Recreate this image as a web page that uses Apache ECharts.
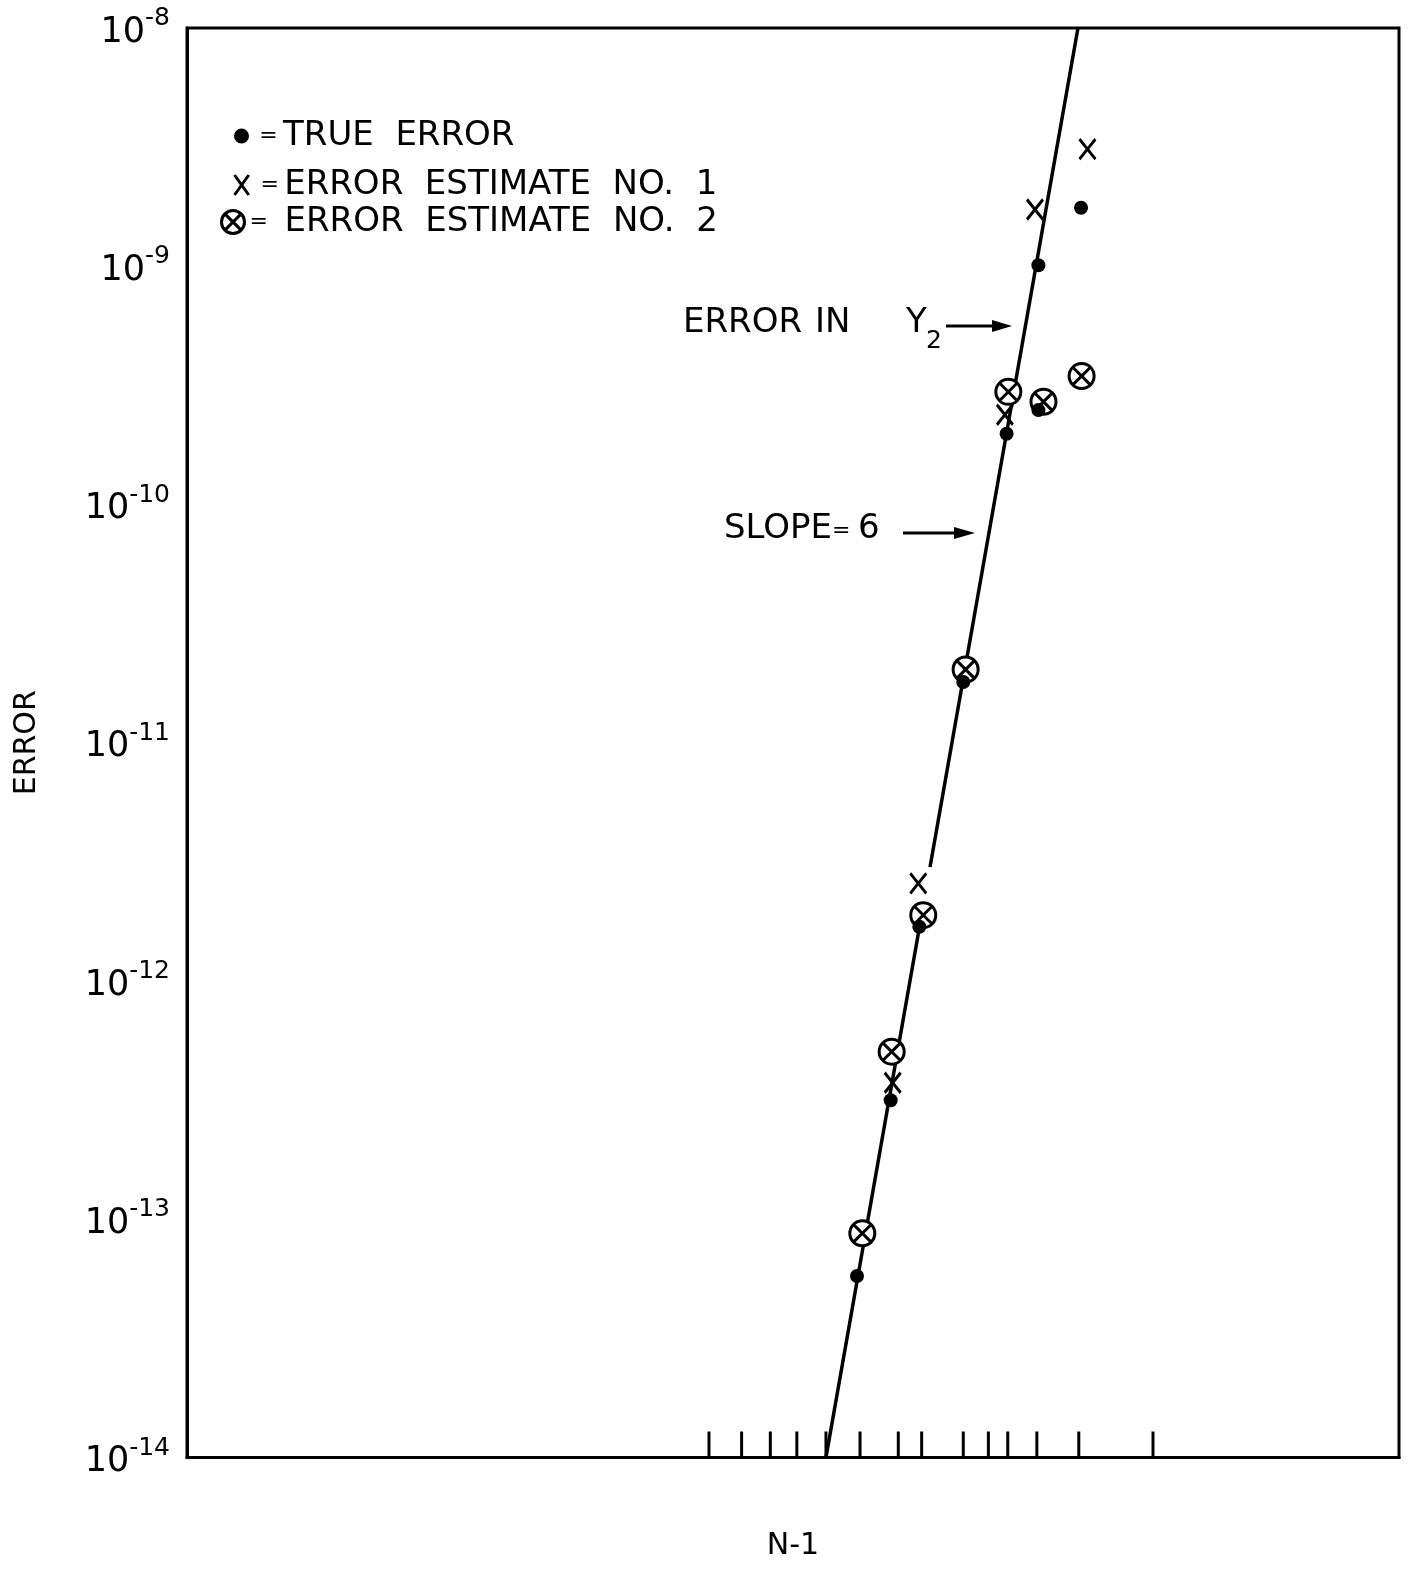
<!DOCTYPE html>
<html><head><meta charset="utf-8">
<script src="https://cdn.jsdelivr.net/npm/echarts@6/dist/echarts.min.js"></script>
<style>html,body{margin:0;padding:0;background:#fff}#chart{width:1411px;height:1569px}</style>
</head><body><div id="chart"></div>
<script>
// x = N-1 (log axis, increasing to the left); y = ERROR (log axis)
const trueErrN   = [14.95, 10.99, 8.46, 5.66, 3.81, 2.85, 2.85, 1.93];
const trueErrVal = [5.78e-14, 3.16e-13, 1.69e-12, 1.80e-11, 1.98e-10, 2.49e-10, 1.01e-9, 1.76e-9];
const est1N   = [10.79, 8.54, 3.87, 2.94, 1.82];
const est1Val = [3.74e-13, 2.57e-12, 2.38e-10, 1.73e-9, 3.10e-9];
const est2N   = [14.24, 10.89, 8.16, 5.54, 3.75, 2.72, 1.92];
const est2Val = [8.73e-14, 5.05e-13, 1.89e-12, 2.03e-11, 2.97e-10, 2.70e-10, 3.46e-10];
// slope = 6 reference line (drawn in two pieces, broken near an X mark)
const fitLowN   = [19.85, 8.155];
const fitLowVal = [1e-14, 2.08e-12];
const fitHighN   = [7.67, 1.985];
const fitHighVal = [3.01e-12, 1e-8];
// tick marks on the N-1 axis (no labels)
const tickN = [57.8, 42.9, 33.0, 25.9, 19.85, 14.54, 10.25, 8.28, 5.66, 4.50, 3.77, 2.89, 1.97, 1.00];
const yMin = 1e-14, yMax = 1e-8;
const xMin = 0.10564, xMax = 6812;

const zip = (a, b) => a.map((v, i) => [v, b[i]]);
const FONT = 'DejaVu Sans';
const X_PATH = 'path://M0,0L10,14M10,0L0,14';
const OT_PATH = 'path://M12,0A12,12,0,1,1,12,24A12,12,0,1,1,12,0ZM3.5,3.5L20.5,20.5M20.5,3.5L3.5,20.5';

const legendFmt = name => '{eq|=}{t|' + name.replace(/ /g, '  ') + '}';
function legendCfg(name, left, top, w, h, eqW, eqAlign, itemStyle) {
  return {
    data: [name], left: left, top: top, padding: 0, itemWidth: w, itemHeight: h,
    selectedMode: false, formatter: legendFmt, itemStyle: itemStyle,
    textStyle: { color: '#000', fontFamily: FONT,
      rich: { eq: { fontSize: 22, width: eqW, align: eqAlign, fontFamily: FONT, color: '#000' },
              t: { fontSize: 34, fontFamily: FONT, color: '#000' } } }
  };
}

const chart = echarts.init(document.getElementById('chart'), null, { renderer: 'canvas' });
chart.setOption({
  backgroundColor: '#fff',
  animation: false,
  grid: { left: 187, top: 28, width: 1212, height: 1429.5, show: true, borderColor: '#000', borderWidth: 3,
          backgroundColor: 'transparent', containLabel: false, outerBoundsMode: 'none' },
  legend: [
    legendCfg('TRUE ERROR', 234, 119, 15, 15, 29, 'center', { color: '#000', opacity: 1 }),
    legendCfg('ERROR ESTIMATE NO. 1', 233, 168, 17, 20, 29, 'center',
              { color: 'rgba(0,0,0,0)', borderColor: '#000', borderWidth: 3, opacity: 1 }),
    legendCfg('ERROR ESTIMATE NO. 2', 220, 205, 23, 23, 35, 'left',
              { color: '#fff', borderColor: '#000', borderWidth: 3, opacity: 1 })
  ],
  xAxis: {
    type: 'log', logBase: 10, inverse: true, min: xMin, max: xMax,
    name: 'N-1', nameLocation: 'middle', nameGap: 74,
    nameTextStyle: { fontFamily: FONT, fontSize: 30, color: '#000' },
    axisLine: { show: true, lineStyle: { color: '#000', width: 3 } },
    axisTick: { show: false }, axisLabel: { show: false }, splitLine: { show: false }, minorTick: { show: false }
  },
  yAxis: {
    type: 'log', logBase: 10, min: yMin, max: yMax,
    name: 'ERROR', nameLocation: 'middle', nameGap: 145, nameRotate: 90,
    nameTextStyle: { fontFamily: FONT, fontSize: 30, color: '#000' },
    axisLine: { show: true, lineStyle: { color: '#000', width: 3 } },
    axisTick: { show: false }, splitLine: { show: false },
    axisLabel: {
      margin: 17, color: '#000',
      formatter: v => '{b|10}{s|' + Math.round(Math.log10(v)) + '}',
      rich: {
        b: { fontSize: 35, fontFamily: FONT, color: '#000', lineHeight: 44, verticalAlign: 'bottom' },
        s: { fontSize: 25, fontFamily: FONT, color: '#000', lineHeight: 25, verticalAlign: 'top' }
      }
    }
  },
  series: [
    { name: 'fitLow', type: 'line', data: zip(fitLowN, fitLowVal), symbol: 'none', z: 2,
      lineStyle: { color: '#000', width: 3.5 }, silent: true },
    { name: 'fitHigh', type: 'line', data: zip(fitHighN, fitHighVal), symbol: 'none', z: 2,
      lineStyle: { color: '#000', width: 3.5 }, silent: true },
    { name: 'ticks', type: 'scatter', data: tickN.map(v => [v, yMin]), symbol: 'rect',
      symbolSize: [3, 26], symbolOffset: [0, -13], z: 2, silent: true,
      itemStyle: { color: '#000', opacity: 1 } },
    { name: 'ERROR ESTIMATE NO. 2', type: 'scatter', data: zip(est2N, est2Val), symbol: OT_PATH,
      symbolSize: 25, z: 3, emphasis: { disabled: true },
      itemStyle: { color: '#fff', borderColor: '#000', borderWidth: 3, opacity: 1 } },
    { name: 'ERROR ESTIMATE NO. 1', type: 'scatter', data: zip(est1N, est1Val), symbol: X_PATH,
      symbolSize: [16, 20], z: 4, emphasis: { disabled: true },
      itemStyle: { color: 'rgba(0,0,0,0)', borderColor: '#000', borderWidth: 3, opacity: 1 } },
    { name: 'TRUE ERROR', type: 'scatter', data: zip(trueErrN, trueErrVal), symbol: 'circle',
      symbolSize: 14, z: 5, emphasis: { disabled: true },
      itemStyle: { color: '#000', opacity: 1 } }
  ],
  graphic: [
    { type: 'text', x: 683, y: 323, style: { text: 'ERROR', font: '34px "DejaVu Sans"', fill: '#000', verticalAlign: 'middle' } },
    { type: 'text', x: 815, y: 323, style: { text: 'IN', font: '34px "DejaVu Sans"', fill: '#000', verticalAlign: 'middle' } },
    { type: 'text', x: 906, y: 323, style: { text: 'Y', font: '34px "DejaVu Sans"', fill: '#000', verticalAlign: 'middle' } },
    { type: 'text', x: 926, y: 341, style: { text: '2', font: '25px "DejaVu Sans"', fill: '#000', verticalAlign: 'middle' } },
    { type: 'line', shape: { x1: 946, y1: 326, x2: 996, y2: 326 }, style: { stroke: '#000', lineWidth: 3 } },
    { type: 'polygon', shape: { points: [[992, 320], [1012, 326], [992, 332]] }, style: { fill: '#000' } },
    { type: 'text', x: 724, y: 529, style: { text: 'SLOPE', font: '34px "DejaVu Sans"', fill: '#000', verticalAlign: 'middle' } },
    { type: 'text', x: 832, y: 531, style: { text: '=', font: '22px "DejaVu Sans"', fill: '#000', verticalAlign: 'middle' } },
    { type: 'text', x: 858, y: 529, style: { text: '6', font: '34px "DejaVu Sans"', fill: '#000', verticalAlign: 'middle' } },
    { type: 'line', shape: { x1: 903, y1: 533, x2: 958, y2: 533 }, style: { stroke: '#000', lineWidth: 3 } },
    { type: 'polygon', shape: { points: [[954, 527], [975, 533], [954, 539]] }, style: { fill: '#000' } }
  ]
});
</script></body></html>
